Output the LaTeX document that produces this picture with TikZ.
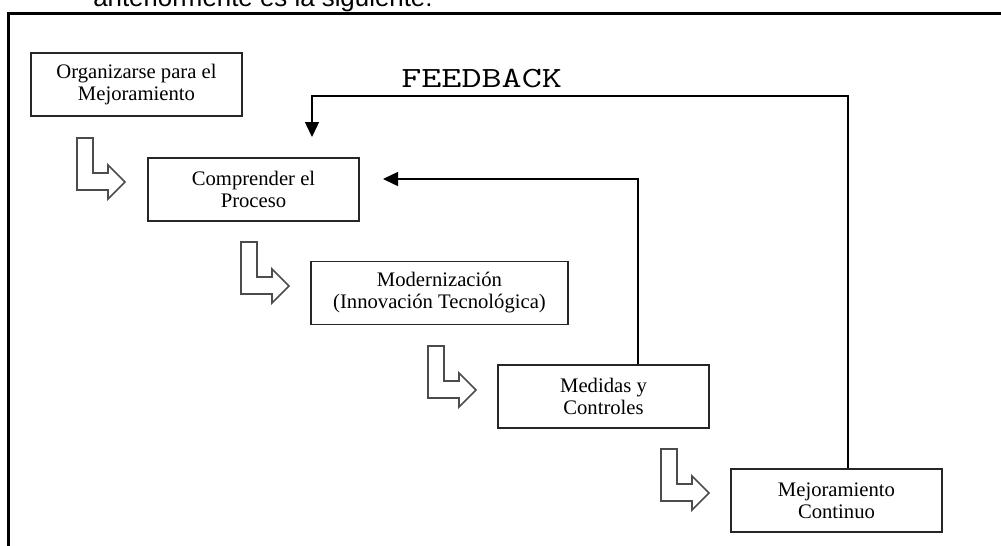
\documentclass[tikz,border=0pt]{standalone}
\usepackage{fontspec}
\setmainfont{Liberation Serif}
\newfontfamily\captionfont{Liberation Sans}
\usetikzlibrary{arrows.meta}

\begin{document}
\begin{tikzpicture}[x=0.75pt, y=-0.75pt,
  stagebox/.style={draw=black!85, line width=1pt, fill=white, align=center,
    inner sep=0pt, minimum height=47.25pt,
    font=\fontsize{15.5}{16.5}\selectfont},
  feedline/.style={draw=black, line width=1.1pt,
    -{Triangle[length=11.25pt, width=10.5pt]}},
  steparrow/.pic={
    \draw[black!70, line width=1.3pt, line join=miter]
      (0,0) -- (16,0) -- (16,35) -- (31,35) -- (31,27) -- (48,44)
      -- (31,61) -- (31,52) -- (0,52) -- cycle;
  }]

  \useasboundingbox (0,0) rectangle (1001,546);

  \begin{scope}
    \clip (0,0) rectangle (1001,546);
    % running text above the frame
    \node[anchor=base west, inner sep=0pt, font=\captionfont\fontsize{19.4}{22}\selectfont]
      (intro) at (93,6.5) {anteriormente es la siguiente:};
    % frame around the figure
    \draw[black, line width=2.25pt] (1010,13.5) -- (8.5,13.5) -- (8.5,560);
  \end{scope}

  % stages of the improvement process
  \node[stagebox, minimum width=158.25pt] (org) at (136.5,84.5)
    {Organizarse para el\\Mejoramiento};
  \node[stagebox, minimum width=158.25pt] (comp) at (253.5,189.5)
    {Comprender el\\Proceso};
  \node[stagebox, minimum width=192.75pt] (mod) at (439.5,293)
    {Modernización\\(Innovación Tecnológica)};
  \node[stagebox, minimum width=158.25pt] (med) at (603.5,396.5)
    {Medidas y\\Controles};
  \node[stagebox, minimum width=158.25pt] (mej) at (836.5,500.5)
    {Mejoramiento\\Continuo};

  % hollow step arrows between stages
  \pic at (77,138) {steparrow};
  \pic at (241,242) {steparrow};
  \pic at (428,346) {steparrow};
  \pic at (661,449) {steparrow};

  % feedback loops
  \node[anchor=base west, inner sep=0pt, font=\ttfamily\fontsize{22}{22}\selectfont]
    (fblabel) at (401,87) {\scalebox{1.33}[1]{FEEDBACK}};

  \coordinate (outerturn) at (848,96);
  \coordinate (outerend) at (312,137);
  \draw[feedline] (mej.north -| outerturn) -- (outerturn) -| (outerend);

  \coordinate (innerturn) at (638,179);
  \coordinate (innerend) at (383,179);
  \draw[feedline] (med.north -| innerturn) -- (innerturn) -- (innerend);
\end{tikzpicture}
\end{document}
